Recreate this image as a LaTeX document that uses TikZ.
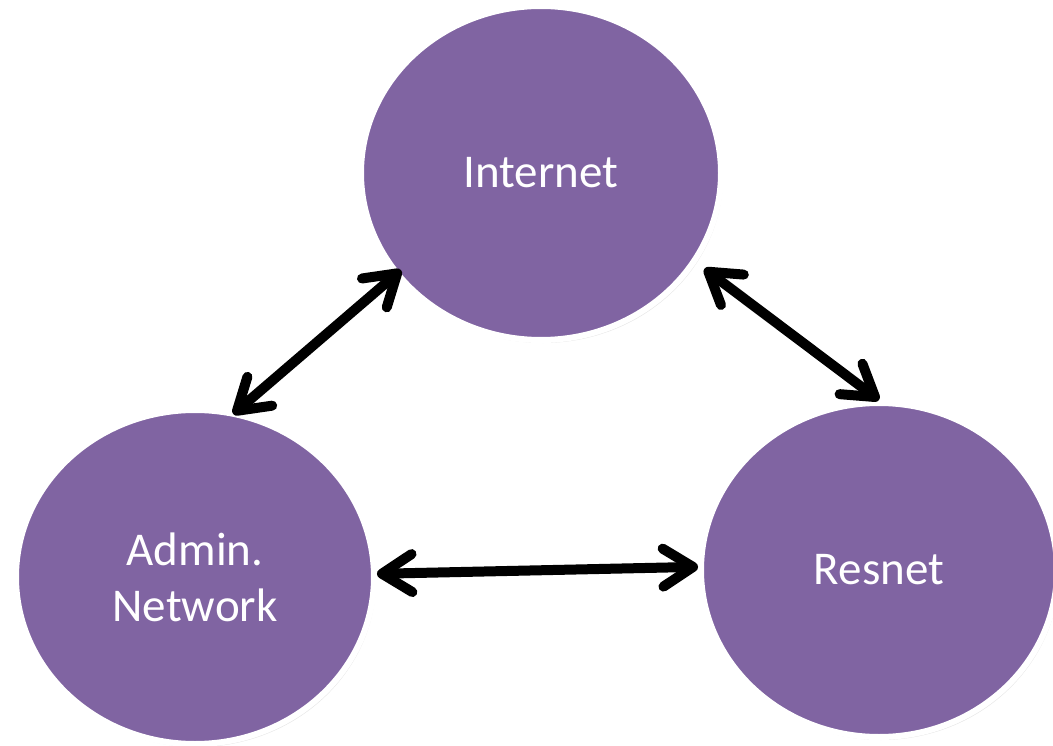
\documentclass[tikz,border=0pt]{standalone}
\usepackage{fontspec}
\setmainfont{Carlito}
\usepackage{tikz}
\usetikzlibrary{shapes.geometric,arrows.meta,shadows}

\definecolor{netpurple}{RGB}{128,100,162}

\tikzset{
  netnode/.style={ellipse, fill=netpurple, draw=white, line width=6pt,
    minimum width=360pt, minimum height=334pt, inner sep=0pt,
    text=white, align=center,
    font=\fontsize{47}{56}\selectfont,
    drop shadow={opacity=0.2, shadow xshift=2pt, shadow yshift=-3pt}},
  link/.style={line width=10pt, {Straight Barb[length=30pt,width=38pt,round]}-{Straight Barb[length=30pt,width=38pt,round]}}
}

\begin{document}
\begin{tikzpicture}[x=1pt, y=-1pt]
  \useasboundingbox (0,0) rectangle (1053,746);
  % the three networks
  \node[netnode] (inet) at (541,173) {Internet};
  \node[netnode, minimum width=358pt] (admin) at (195,577) {Admin.\\Network};
  \node[netnode, minimum width=356pt] (resnet) at (879,570) {Resnet};
  % links between them
  \draw[link, shorten <=-4pt, shorten >=-8pt] (admin.76) -- (inet.215);
  \draw[link, shorten <=10pt] (inet.330) -- (resnet.90);
  \draw[link] (admin.1) -- (resnet.179);
\end{tikzpicture}
\end{document}
